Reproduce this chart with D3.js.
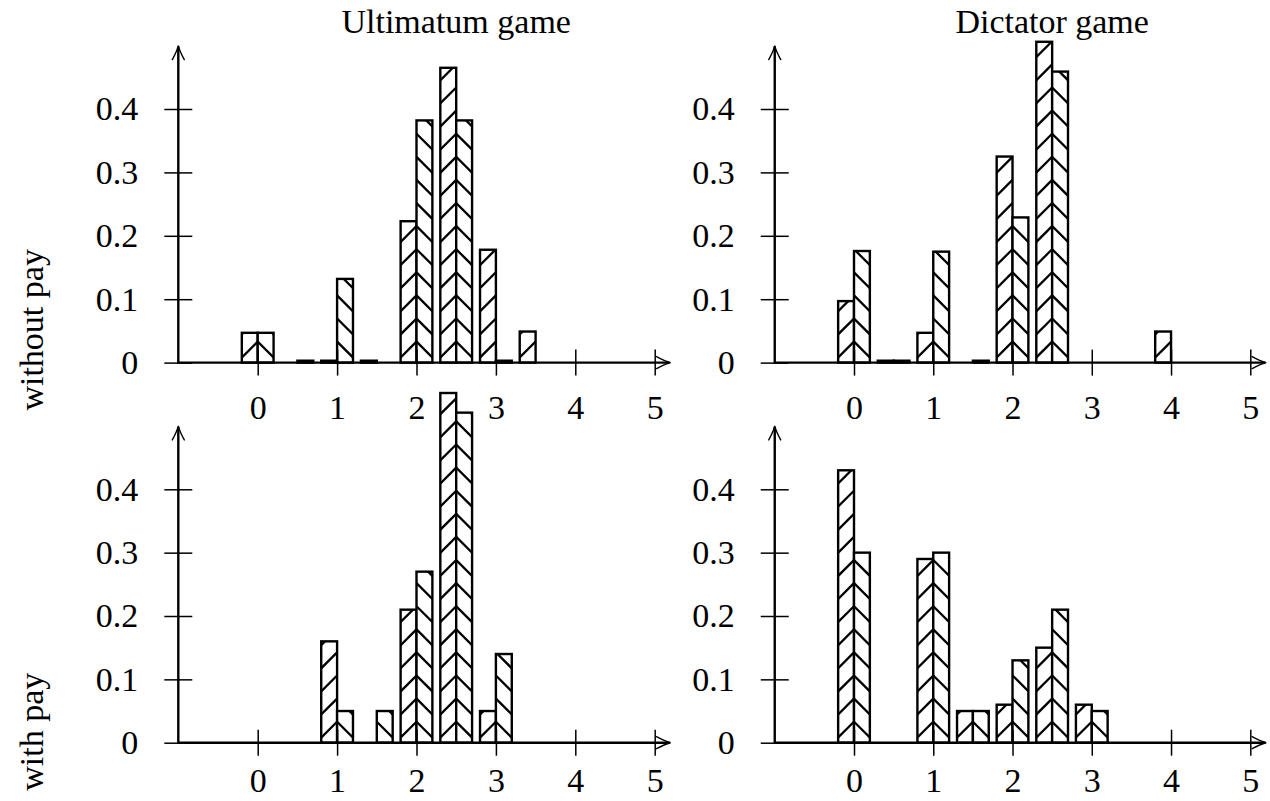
<!DOCTYPE html>
<html>
<head>
<meta charset="utf-8">
<script src="https://cdn.jsdelivr.net/npm/d3@7"></script>
<style>
  html, body { margin: 0; padding: 0; background: #fff; }
  svg text { font-family: "Liberation Serif", "Times New Roman", serif; fill: #000; }
</style>
</head>
<body>
<svg id="chart" width="1270" height="801"></svg>
<script>
// Offer bins (0 to 5 in steps of 0.5)
const offers = [0, 0.5, 1, 1.5, 2, 2.5, 3, 3.5, 4, 4.5, 5];
const xTicks = [0, 1, 2, 3, 4, 5];
const xTickLabels = ["0", "1", "2", "3", "4", "5"];
const yTicks = [0, 0.1, 0.2, 0.3, 0.4];
const yTickLabels = ["0", "0.1", "0.2", "0.3", "0.4"];
const columnTitles = ["Ultimatum game", "Dictator game"];
const rowTitles = ["without pay", "with pay"];

// Share of offers in each bin: "first" = left bar ("/" hatch), "second" = right bar ("\" hatch)
const ultimatumNoPayFirst  = [0.047, 0,     0.003, 0.003, 0.223, 0.465, 0.178, 0.049, 0, 0, 0];
const ultimatumNoPaySecond = [0.047, 0.003, 0.132, 0,     0.382, 0.382, 0.003, 0,     0, 0, 0];
const dictatorNoPayFirst   = [0.097, 0.003, 0.047, 0,     0.325, 0.506, 0,     0,     0.049, 0, 0];
const dictatorNoPaySecond  = [0.176, 0.003, 0.175, 0.003, 0.229, 0.459, 0,     0,     0, 0, 0];
const ultimatumPayFirst    = [0,     0,     0.16,  0,     0.21,  0.552, 0.05,  0,     0, 0, 0];
const ultimatumPaySecond   = [0,     0,     0.05,  0.05,  0.27,  0.521, 0.14,  0,     0, 0, 0];
const dictatorPayFirst     = [0.43,  0,     0.29,  0.05,  0.06,  0.15,  0.06,  0,     0, 0, 0];
const dictatorPaySecond    = [0.30,  0,     0.30,  0.05,  0.13,  0.21,  0.05,  0,     0, 0, 0];

const panels = [
  { row: 0, col: 0, first: ultimatumNoPayFirst, second: ultimatumNoPaySecond },
  { row: 0, col: 1, first: dictatorNoPayFirst,  second: dictatorNoPaySecond },
  { row: 1, col: 0, first: ultimatumPayFirst,   second: ultimatumPaySecond },
  { row: 1, col: 1, first: dictatorPayFirst,    second: dictatorPaySecond }
];

// layout
const colRange = [[257.7, 654.7], [854, 1250.3]];   // pixel range for x = 0..5
const rowRange = [[362.6, 109], [742.7, 489.3]];     // pixel range for y = 0..0.4
const xLabelPad = [19, 12];                          // gap between x ticks and their labels, per row
const barWidth = 0.2;        // in offer units
const hatchStep = 23.1;      // vertical distance between hatch lines
const hatchOffset = 21;      // first chevron apex above the baseline
const FONT = 34;

const svg = d3.select("#chart");
const defs = svg.append("defs");

// open "to"-style arrow head pointing along +x, tip at origin
function arrowHead(g, tx, ty, angle) {
  g.append("path")
    .attr("transform", `translate(${tx},${ty}) rotate(${angle})`)
    .attr("d", "M-14,-6 Q-6,-1.5 0,0 Q-6,1.5 -14,6")
    .attr("fill", "none")
    .attr("stroke", "#000")
    .attr("stroke-width", 1.4)
    .attr("stroke-linecap", "round");
}

panels.forEach((p, pi) => {
  const x = d3.scaleLinear().domain([0, 5]).range(colRange[p.col]);
  const y = d3.scaleLinear().domain([0, 0.4]).range(rowRange[p.row]);
  const g = svg.append("g");
  const w = x(barWidth) - x(0);
  const base = y(0);

  // bars with hatch
  const series = [
    { values: p.first, side: -1 },
    { values: p.second, side: 1 }
  ];
  series.forEach((s, si) => {
    s.values.forEach((v, j) => {
      if (v <= 0) return;
      const center = x(offers[j]);
      const left = s.side < 0 ? x(offers[j] - barWidth) : center;
      const top = y(v);
      const h = base - top;
      const id = `clip-${pi}-${si}-${j}`;
      defs.append("clipPath").attr("id", id)
        .append("rect").attr("x", left).attr("y", top).attr("width", w).attr("height", h);

      const bar = g.append("g");
      bar.append("rect")
        .attr("x", left).attr("y", top).attr("width", w).attr("height", h)
        .attr("fill", "#fff");

      const apexes = d3.range(base - hatchOffset, top - w - 4, -hatchStep);
      bar.append("g").attr("clip-path", `url(#${id})`)
        .selectAll("line").data(apexes).join("line")
        .attr("x1", center).attr("y1", d => d)
        .attr("x2", center + s.side * (w + 4)).attr("y2", d => d + w + 4)
        .attr("stroke", "#000").attr("stroke-width", 2.3);

      bar.append("rect")
        .attr("x", left).attr("y", top).attr("width", w).attr("height", h)
        .attr("fill", "none").attr("stroke", "#000").attr("stroke-width", 2.4);
    });
  });

  // axis lines with arrows
  const xStart = x(-1), xEnd = x(5.2), yTop = y(0.5);
  g.append("line").attr("x1", xStart).attr("x2", xEnd - 1).attr("y1", base).attr("y2", base)
    .attr("stroke", "#000").attr("stroke-width", 2.4);
  arrowHead(g, xEnd, base, 0);
  g.append("line").attr("x1", xStart).attr("x2", xStart).attr("y1", base + 1.2).attr("y2", yTop + 1)
    .attr("stroke", "#000").attr("stroke-width", 2.4);
  arrowHead(g, xStart, yTop, -90);

  // x axis ticks
  const xAxis = d3.axisBottom(x).tickValues(xTicks)
    .tickFormat((d, i) => xTickLabels[i]).tickSize(13).tickPadding(xLabelPad[p.row]);
  const gx = g.append("g").attr("transform", `translate(0,${base})`).call(xAxis);
  gx.select(".domain").remove();
  gx.selectAll(".tick line").attr("y1", -13).attr("stroke-width", 1.5);
  gx.selectAll(".tick text").attr("font-size", FONT).attr("font-family", null);

  // y axis ticks
  const yAxis = d3.axisLeft(y).tickValues(yTicks)
    .tickFormat((d, i) => yTickLabels[i]).tickSize(14).tickPadding(26);
  const gy = g.append("g").attr("transform", `translate(${xStart},0)`).call(yAxis);
  gy.select(".domain").remove();
  gy.selectAll(".tick line").attr("x1", 14).attr("stroke-width", 1.5);
  gy.selectAll(".tick text").attr("font-size", FONT).attr("font-family", null);

  // column title
  if (p.row === 0) {
    svg.append("text")
      .attr("x", x(2.5)).attr("y", 33)
      .attr("text-anchor", "middle").attr("font-size", FONT)
      .text(columnTitles[p.col]);
  }
  // row title
  if (p.col === 0) {
    svg.append("text")
      .attr("transform", `translate(43,${base + 48}) rotate(-90)`)
      .attr("text-anchor", "start").attr("font-size", FONT)
      .text(rowTitles[p.row]);
  }
});
</script>
</body>
</html>
